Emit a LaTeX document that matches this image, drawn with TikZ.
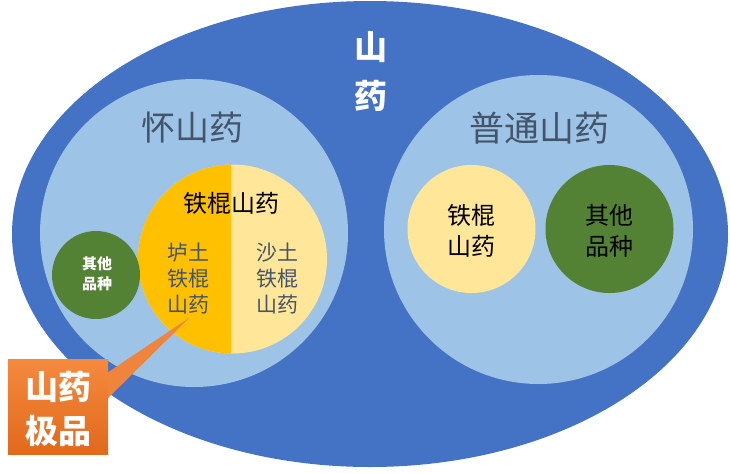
\documentclass[tikz,border=0pt]{standalone}
\usepackage{fontspec}
\newfontfamily\cjk{Noto Sans CJK SC}
\usetikzlibrary{shapes.geometric,calc}
\definecolor{bigblue}{HTML}{4472C4}
\definecolor{lightblue}{HTML}{9DC3E6}
\definecolor{gold}{HTML}{FFC000}
\definecolor{paleyellow}{HTML}{FFE699}
\definecolor{leafgreen}{HTML}{548235}
\definecolor{slatetext}{HTML}{44546A}
\definecolor{orangetop}{HTML}{F58A3E}
\definecolor{orangebot}{HTML}{E1691C}
\definecolor{orangeptr}{HTML}{EF843C}
\tikzset{
  disc/.style={circle, inner sep=0pt, draw=none},
  lbl/.style={inner sep=0pt, align=center, font=\cjk},
}
\begin{document}
\begin{tikzpicture}[x=1pt,y=-1pt]
\useasboundingbox (0,0) rectangle (730,472);
\fill[white] (0,0) rectangle (730,472);
% outer ellipse
\node[ellipse, fill=bigblue, minimum width=716pt, minimum height=466pt, inner sep=0pt] (shanyao) at (370,234) {};
% two main circles
\node[disc, fill=lightblue, minimum size=308pt] (huai) at (194,233) {};
\node[disc, fill=lightblue, minimum size=309pt] (putong) at (538.5,229.5) {};
% split circle
\node[disc, fill=paleyellow, minimum size=189pt] (tiegun) at (232.5,259) {};
\begin{scope}
  \clip (130,150) rectangle (231,370);
  \fill[gold] (tiegun.center) circle (94.5pt);
\end{scope}
% small circles
\node[disc, fill=leafgreen, minimum size=88pt] (huaiother) at (96,275) {};
\node[disc, fill=paleyellow, minimum size=128pt] (ptgun) at (471.5,229) {};
\node[disc, fill=leafgreen, minimum size=128pt] (ptother) at (609.5,229) {};
% labels
\node[lbl, text=white, font=\cjk\bfseries\fontsize{33}{49}\selectfont] (tshan) at (371,72) {山\\药};
\node[lbl, text=slatetext, font=\cjk\fontsize{34}{40}\selectfont] (thuai) at (192,128) {怀山药};
\node[lbl, text=slatetext, font=\cjk\fontsize{35}{40}\selectfont] (tputong) at (539,128) {普通山药};
\node[lbl, text=black, font=\cjk\fontsize{24}{28}\selectfont] (ttiegun) at (231,203) {铁棍山药};
\node[lbl, text=slatetext, font=\cjk\fontsize{21}{26}\selectfont] (tlu) at (188,279) {垆土\\铁棍\\山药};
\node[lbl, text=slatetext, font=\cjk\fontsize{21}{26}\selectfont] (tsha) at (277,279) {沙土\\铁棍\\山药};
\node[lbl, text=white, font=\cjk\bfseries\fontsize{15}{20}\selectfont] (thother) at (97,274) {其他\\品种};
\node[lbl, text=black, font=\cjk\fontsize{24}{31}\selectfont] (tptgun) at (471,231) {铁棍\\山药};
\node[lbl, text=black, font=\cjk\fontsize{24}{31}\selectfont] (tptother) at (609,231) {其他\\品种};
% callout
\node[inner sep=0pt, minimum width=100pt, minimum height=95pt, top color=orangetop, bottom color=orangebot] (box) at (58,406.5) {};
\coordinate (tip) at (189,318);
\fill[orangeptr] ($(box.north east)!0.14!(box.south east)$) -- (tip) -- ($(box.north east)!0.41!(box.south east)$) -- cycle;
\node[lbl, text=white, font=\cjk\bfseries\fontsize{33}{44}\selectfont] (tjipin) at (58,409) {山药\\极品};
\end{tikzpicture}
\end{document}
